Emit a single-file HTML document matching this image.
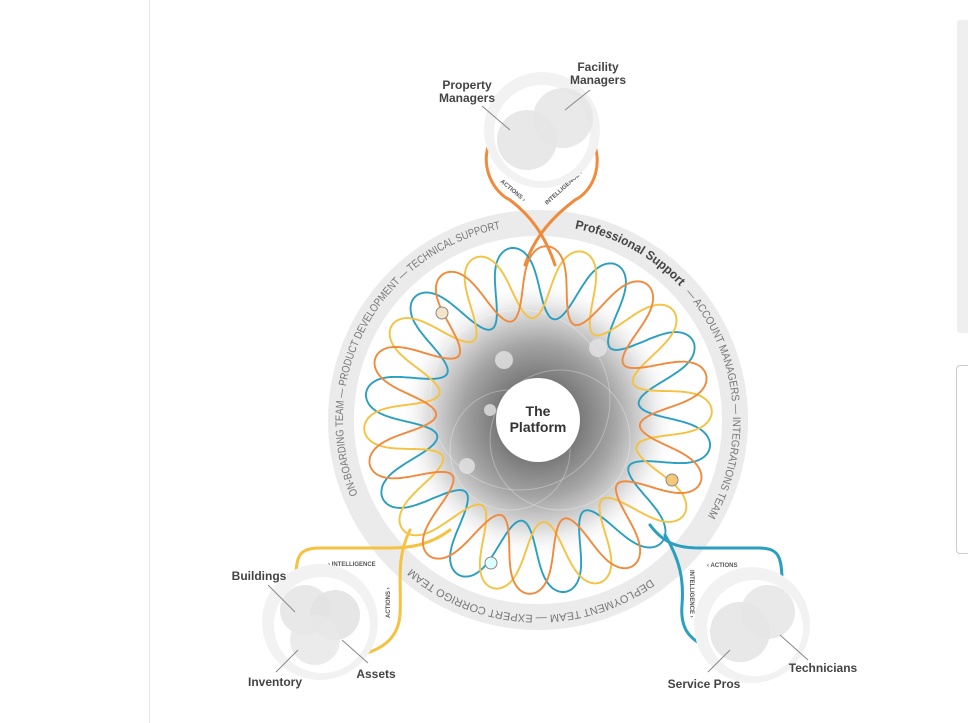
<!DOCTYPE html>
<html><head><meta charset="utf-8"><style>
html,body{margin:0;padding:0;background:#fff;}
body{width:968px;height:723px;overflow:hidden;position:relative;font-family:"Liberation Sans",sans-serif;}
.vl{position:absolute;left:149px;top:0;width:1px;height:723px;background:#e6e6e6;}
.p1{position:absolute;left:957px;top:20px;width:11px;height:313px;background:#efefef;border-radius:3px 0 0 3px;}
.p2{position:absolute;left:956px;top:365px;width:12px;height:187px;border:1px solid #ccc;border-right:none;border-radius:4px 0 0 4px;}
svg{position:absolute;left:0;top:0;}
</style></head><body>
<div class="vl"></div><div class="p1"></div><div class="p2"></div>
<svg width="968" height="723" viewBox="0 0 968 723">
<defs>
<radialGradient id="g" cx="538" cy="420" r="140" gradientUnits="userSpaceOnUse">
<stop offset="0.3" stop-color="#7a7a7a"/>
<stop offset="0.55" stop-color="#a5a5a5"/>
<stop offset="0.8" stop-color="#e2e2e2"/>
<stop offset="1" stop-color="#fff" stop-opacity="0"/>
</radialGradient>
<path id="rp" d="M538,225 A195,195 0 1 1 538,615 A195,195 0 1 1 538,225"/>
</defs>
<circle cx="538" cy="420" r="197" fill="none" stroke="#ebebeb" stroke-width="26"/>
<circle cx="538" cy="420" r="140" fill="url(#g)"/>
<g stroke="#fff" stroke-opacity="0.3" fill="none" stroke-width="1">
<circle cx="520" cy="400" r="90"/><circle cx="560" cy="440" r="70"/><circle cx="510" cy="450" r="60"/>
</g>
<circle cx="598" cy="348" r="9" fill="#e4e4e4" opacity=".8"/>
<circle cx="504" cy="360" r="9" fill="#e4e4e4" opacity=".8"/>
<circle cx="467" cy="466" r="8" fill="#e4e4e4" opacity=".8"/>
<circle cx="490" cy="410" r="6" fill="#e4e4e4" opacity=".8"/>
<circle cx="538" cy="420" r="42" fill="#fff"/>
<text x="538" y="416" text-anchor="middle" font-size="14" font-weight="bold" fill="#333">The</text>
<text x="538" y="432" text-anchor="middle" font-size="14" font-weight="bold" fill="#333">Platform</text>
<g font-size="11" fill="#777">
<text><textPath href="#rp" startOffset="842" textLength="345" lengthAdjust="spacingAndGlyphs">ON-BOARDING TEAM  —  PRODUCT DEVELOPMENT  —  TECHNICAL SUPPORT</textPath></text>
<text font-weight="bold" font-size="12.5" fill="#444"><textPath href="#rp" startOffset="37" textLength="122" lengthAdjust="spacingAndGlyphs">Professional Support</textPath></text>
<text><textPath href="#rp" startOffset="167" textLength="240" lengthAdjust="spacingAndGlyphs">—  ACCOUNT MANAGERS  —  INTEGRATIONS TEAM</textPath></text>
<text><textPath href="#rp" startOffset="492" textLength="258" lengthAdjust="spacingAndGlyphs">DEPLOYMENT TEAM  —  EXPERT CORRIGO TEAM</textPath></text>
</g>
<g fill="none" stroke-width="3" stroke-linecap="round">
<path d="M493,135 C478,160 490,190 510,200 C530,215 545,235 555,265" stroke="#f08a3c"/>
<path d="M590,135 C605,160 595,190 575,200 C555,215 535,235 525,265" stroke="#f08a3c"/>
<path d="M296,578 C296,555 300,548 320,548 L390,548 C410,548 430,545 450,530" stroke="#f5c242"/>
<path d="M360,655 C380,650 398,640 400,615 C402,585 395,560 410,530" stroke="#f5c242"/>
<path d="M782,582 C782,555 778,548 758,548 L700,548 C680,548 665,545 650,525" stroke="#2a9fc0"/>
<path d="M712,650 C690,640 680,630 682,605 C684,580 680,560 665,535" stroke="#2a9fc0"/>
</g>
<g font-size="6" font-weight="bold" fill="#555">
<text transform="translate(500,182) rotate(40)">ACTIONS ›</text>
<text transform="translate(547,205) rotate(-42)">INTELLIGENCE ›</text>
<text x="328" y="566">› INTELLIGENCE</text>
<text transform="translate(390,618) rotate(-90)">ACTIONS ›</text>
<text x="707" y="567">‹ ACTIONS</text>
<text transform="translate(690,570) rotate(90)">INTELLIGENCE ›</text>
</g>
<g id="waves" fill="none" stroke-width="1.9"></g>
<circle cx="442" cy="313" r="6" fill="#f3e3c8" stroke="#888"/>
<circle cx="672" cy="480" r="6" fill="#f5c878" stroke="#888"/>
<circle cx="491" cy="563" r="6" fill="#dff" stroke="#888"/>
<g>
<circle cx="542" cy="130" r="58" fill="#f2f2f2"/><circle cx="542" cy="133" r="48" fill="#fff"/>
<circle cx="527" cy="140" r="30" fill="#e8e8e8"/><circle cx="563" cy="118" r="30" fill="#e5e5e5" opacity=".85"/>
<circle cx="320" cy="622" r="58" fill="#f2f2f2"/><circle cx="322" cy="625" r="48" fill="#fff"/>
<circle cx="305" cy="610" r="25" fill="#e8e8e8"/><circle cx="335" cy="615" r="25" fill="#e2e2e2" opacity=".85"/><circle cx="315" cy="640" r="25" fill="#e8e8e8" opacity=".85"/>
<circle cx="752" cy="625" r="58" fill="#f2f2f2"/><circle cx="755" cy="628" r="48" fill="#fff"/>
<circle cx="740" cy="632" r="30" fill="#e8e8e8"/><circle cx="768" cy="612" r="27" fill="#e5e5e5" opacity=".85"/>
</g>
<g stroke="#888" stroke-width="1">
<line x1="482" y1="106" x2="510" y2="130"/><line x1="590" y1="90" x2="565" y2="110"/>
<line x1="268" y1="585" x2="295" y2="612"/><line x1="276" y1="672" x2="298" y2="650"/><line x1="368" y1="663" x2="342" y2="640"/>
<line x1="708" y1="672" x2="730" y2="650"/><line x1="808" y1="660" x2="780" y2="635"/>
</g>
<g font-size="12" font-weight="bold" fill="#444" text-anchor="middle">
<text x="467" y="89">Property</text><text x="467" y="102">Managers</text>
<text x="598" y="71">Facility</text><text x="598" y="84">Managers</text>
<text x="259" y="580">Buildings</text>
<text x="275" y="686">Inventory</text>
<text x="376" y="678">Assets</text>
<text x="704" y="688">Service Pros</text>
<text x="823" y="672">Technicians</text>
</g>
</svg>
<script>
(function(){
var g=document.getElementById('waves'),cx=538,cy=420;
var cfg=[["#2a9fc0",0],["#f5c242",2.1],["#f08a3c",4.2]];
cfg.forEach(function(c){
 var d="",n=10;
 for(var i=0;i<=1600;i++){
  var t=i/1600*2*Math.PI,ph=n*t+c[1];
  var r=138+36*Math.sin(ph);
  var a=t-0.018*Math.sin(2*ph);
  var x=cx+r*Math.cos(a),y=cy+r*Math.sin(a);
  d+=(i?"L":"M")+x.toFixed(1)+","+y.toFixed(1);
 }
 var p=document.createElementNS("http://www.w3.org/2000/svg","path");
 p.setAttribute("d",d+"Z");p.setAttribute("stroke",c[0]);
 g.appendChild(p);
});
})();
</script>
</body></html>
